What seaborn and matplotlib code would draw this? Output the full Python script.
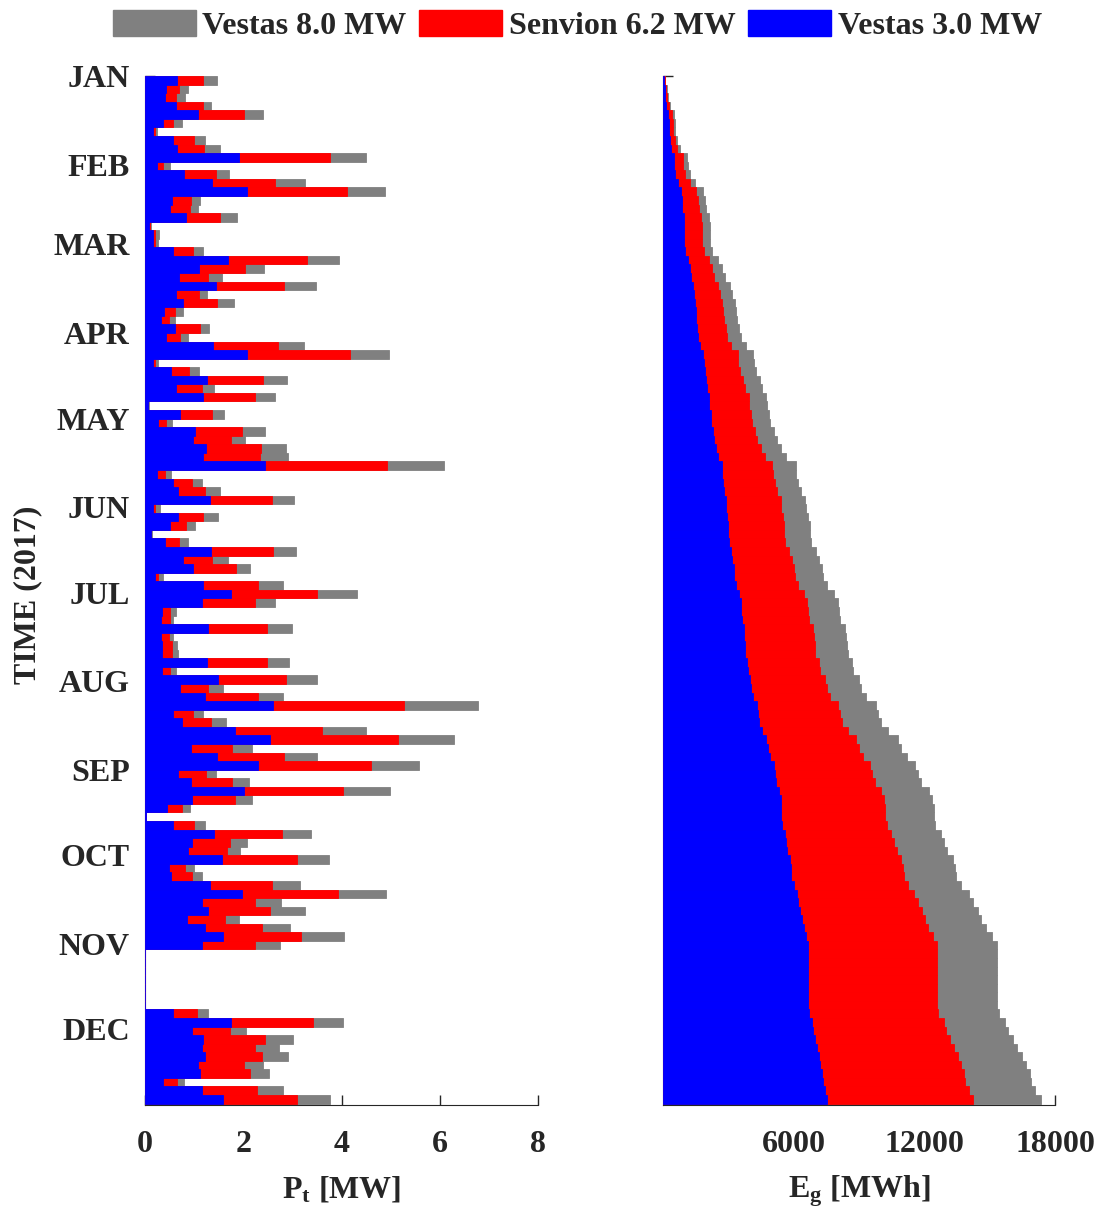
import numpy as np
import pandas as pd
import matplotlib
matplotlib.use("Agg")
import matplotlib.pyplot as plt
from matplotlib.patches import Patch
import seaborn as sns

# mean power per 3-day block [MW] (top = early January)
vestas3 = [0.66, 0.43, 0.41, 0.63, 1.07, 0.37, 0.16, 0.58, 0.66, 1.91,
           0.25, 0.79, 1.36, 2.07, 0.54, 0.51, 0.83, 0.09, 0.16, 0.16,
           0.58, 1.68, 1.09, 0.70, 1.45, 0.63, 0.78, 0.39, 0.32, 0.62,
           0.43, 1.39, 2.08, 0.16, 0.53, 1.26, 0.63, 1.19, 0.07, 0.71,
           0.27, 1.02, 0.97, 1.24, 1.19, 2.44, 0.25, 0.56, 0.68, 1.32,
           0.16, 0.67, 0.50, 0.12, 0.41, 1.34, 0.77, 0.98, 0.20, 1.19,
           1.75, 1.16, 0.34, 0.32, 1.29, 0.32, 0.34, 0.34, 1.26, 0.34,
           1.49, 0.71, 1.22, 2.61, 0.58, 0.75, 1.83, 2.55, 0.93, 1.46,
           2.31, 0.68, 0.93, 2.02, 0.95, 0.44, 0.03, 0.58, 1.41, 0.95,
           0.88, 1.56, 0.48, 0.52, 1.32, 1.97, 1.15, 1.29, 0.85, 1.22,
           1.58, 1.15, 0, 0, 0, 0, 0, 0, 0, 0.58,
           1.75, 0.95, 1.19, 1.15, 1.22, 1.07, 1.12, 0.37, 1.15, 1.58]
senvion = [1.19, 0.70, 0.64, 1.19, 2.02, 0.58, 0.20, 1.00, 1.21, 3.77,
           0.37, 1.45, 2.65, 4.11, 0.93, 0.92, 1.53, 0.10, 0.20, 0.20,
           0.98, 3.29, 2.04, 1.29, 2.82, 1.09, 1.46, 0.61, 0.48, 1.11,
           0.71, 2.70, 4.17, 0.20, 0.90, 2.41, 1.15, 2.24, 0.07, 1.36,
           0.43, 1.97, 1.75, 2.36, 2.34, 4.92, 0.41, 0.96, 1.22, 2.58,
           0.20, 1.19, 0.84, 0.12, 0.70, 2.60, 1.36, 1.85, 0.27, 2.29,
           3.51, 2.23, 0.51, 0.50, 2.48, 0.48, 0.54, 0.54, 2.48, 0.51,
           2.86, 1.29, 2.31, 5.28, 0.98, 1.34, 3.60, 5.14, 1.77, 2.82,
           4.60, 1.24, 1.77, 4.04, 1.83, 0.75, 0.03, 1.00, 2.78, 1.73,
           1.66, 3.09, 0.82, 0.95, 2.59, 3.92, 2.24, 2.55, 1.63, 2.39,
           3.18, 2.23, 0, 0, 0, 0, 0, 0, 0, 1.05,
           3.41, 1.73, 2.44, 2.24, 2.39, 2.02, 2.14, 0.65, 2.27, 3.10]
vestas8 = [1.46, 0.87, 0.81, 1.34, 2.41, 0.75, 0.24, 1.22, 1.53, 4.49,
           0.50, 1.70, 3.26, 4.89, 1.12, 1.07, 1.87, 0.12, 0.29, 0.27,
           1.19, 3.94, 2.42, 1.56, 3.48, 1.27, 1.82, 0.78, 0.61, 1.30,
           0.88, 3.24, 4.97, 0.27, 1.09, 2.89, 1.41, 2.65, 0.08, 1.61,
           0.54, 2.44, 2.04, 2.87, 2.91, 6.08, 0.52, 1.17, 1.53, 3.04,
           0.31, 1.49, 1.02, 0.14, 0.88, 3.08, 1.68, 2.13, 0.37, 2.80,
           4.31, 2.65, 0.64, 0.58, 2.99, 0.58, 0.66, 0.68, 2.93, 0.64,
           3.50, 1.58, 2.80, 6.78, 1.19, 1.65, 4.49, 6.28, 2.17, 3.50,
           5.57, 1.45, 2.12, 4.98, 2.17, 0.92, 0.03, 1.22, 3.38, 2.08,
           1.94, 3.75, 1.00, 1.17, 3.16, 4.91, 2.76, 3.25, 1.92, 2.95,
           4.05, 2.75, 0, 0, 0, 0, 0, 0, 0, 1.28,
           4.04, 2.06, 3.01, 2.72, 2.91, 2.40, 2.53, 0.79, 2.80, 3.77]

months = ['JAN', 'FEB', 'MAR', 'APR', 'MAY', 'JUN',
          'JUL', 'AUG', 'SEP', 'OCT', 'NOV', 'DEC']
block_days = 3
hours_per_block = block_days * 24

# draw order: largest first so the smaller ones sit on top
series = [('Vestas 8.0 MW', vestas8, '#808080'),
          ('Senvion 6.2 MW', senvion, '#ff0000'),
          ('Vestas 3.0 MW', vestas3, '#0000ff')]

n = len(vestas3)
day = np.arange(n) * block_days + block_days / 2
month_start = pd.date_range('2017-01-01', periods=12, freq='MS').dayofyear - 1

sns.set_style('ticks', {'xtick.direction': 'in', 'ytick.direction': 'in'})
plt.rcParams['font.family'] = ['Liberation Serif', 'DejaVu Serif']
plt.rcParams['font.weight'] = 'bold'
plt.rcParams['axes.labelweight'] = 'bold'
plt.rcParams['mathtext.fontset'] = 'custom'
plt.rcParams['mathtext.rm'] = 'Liberation Serif:bold'
plt.rcParams['mathtext.it'] = 'Liberation Serif:bold'
plt.rcParams['mathtext.bf'] = 'Liberation Serif:bold'

fs = 23
fig = plt.figure(figsize=(11.01, 12.17), dpi=100)
ax1 = fig.add_axes([0.1317, 0.092, 0.357, 0.8455])
ax2 = fig.add_axes([0.6022, 0.092, 0.356, 0.8455])

for name, vals, col in series:
    vals = np.array(vals)
    sns.barplot(x=vals, y=day, orient='h', native_scale=True, width=1,
                color=col, saturation=1, errorbar=None, ax=ax1,
                linewidth=0.6, edgecolor=col)
    # cumulative energy [MWh]
    sns.barplot(x=np.cumsum(vals) * hours_per_block, y=day, orient='h',
                native_scale=True, width=1, color=col, saturation=1,
                errorbar=None, ax=ax2, linewidth=0.6, edgecolor=col)

for ax in (ax1, ax2):
    ax.set_ylim(n * block_days + 0.5, 0)
    ax.set_yticks(month_start)
    ax.set_axisbelow(True)
    ax.spines['left'].set_zorder(0.5)
    ax.spines[['top', 'right']].set_visible(False)
    ax.tick_params(axis='both', direction='in', length=7, width=1,
                   labelsize=fs)
    ax.tick_params(axis='x', pad=18)
    ax.tick_params(axis='y', pad=11)

ax1.set_xlim(0, 8)
ax1.set_xticks([0, 2, 4, 6, 8])
ax1.set_yticklabels(months)
ax1.set_xlabel(r'$\mathrm{P_t}$ [MW]', fontsize=fs, va='baseline')
ax1.xaxis.set_label_coords(0.5, -0.0894)
ax1.set_ylabel('TIME (2017)', fontsize=fs, va='center')
ax1.yaxis.set_label_coords(-0.298, 0.496)

ax2.set_xlim(0, 18000)
ax2.set_xticks([6000, 12000, 18000])
ax2.set_yticklabels([])
ax2.set_xlabel(r'$\mathrm{E_g}$ [MWh]', fontsize=fs, va='baseline')
ax2.xaxis.set_label_coords(0.5, -0.0894)
ax2.set_ylabel('')

handles = [Patch(facecolor=c, edgecolor=c, label=nm) for nm, _, c in series]
fig.legend(handles=handles, loc='center', bbox_to_anchor=(0.5245, 0.979),
           ncol=3, frameon=False, fontsize=fs, handlelength=2.6,
           handleheight=0.85, handletextpad=0.2, columnspacing=0.4,
           borderaxespad=0)

fig.savefig('out.png', dpi=100)
